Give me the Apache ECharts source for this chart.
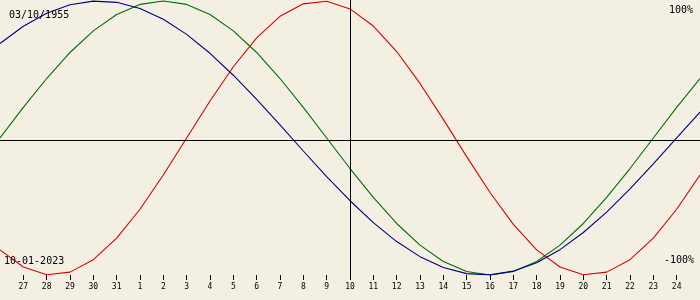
<!DOCTYPE html>
<html>
<head>
<meta charset="utf-8">
<script src="https://cdn.jsdelivr.net/npm/echarts@6/dist/echarts.min.js"></script>
<style>
html,body{margin:0;padding:0;background:#f3efe3;}
#c{width:700px;height:300px;}
</style>
</head>
<body>
<div id="c"></div>
<script>
// Days shown (Dec 26 .. Jan 25); first and last are edge points without labels
const days = ['26','27','28','29','30','31','1','2','3','4','5','6','7','8','9','10','11','12','13','14','15','16','17','18','19','20','21','22','23','24','25'];
// Physical (red), percent
const physical = [-81.7,-94.2,-99.8,-97.9,-88.8,-73.1,-52.0,-27.0,0,27.0,52.0,73.1,88.8,97.9,99.8,94.2,81.7,63.1,39.8,13.6,-13.6,-39.8,-63.1,-81.7,-94.2,-99.8,-97.9,-88.8,-73.1,-52.0,-27.0];
// Emotional (green), percent
const emotional = [0,22.3,43.4,62.4,78.2,90.1,97.5,100,97.5,90.1,78.2,62.4,43.4,22.3,0,-22.3,-43.4,-62.4,-78.2,-90.1,-97.5,-100,-97.5,-90.1,-78.2,-62.4,-43.4,-22.3,0,22.3,43.4];
// Intellectual (blue), percent
const intellectual = [69.0,81.5,91.0,97.2,99.9,99.0,94.5,86.6,75.6,61.8,45.8,28.2,9.5,-9.5,-28.2,-45.8,-61.8,-75.6,-86.6,-94.5,-99.0,-99.9,-97.2,-91.0,-81.5,-69.0,-54.1,-37.2,-18.9,0,18.9];
const birthText = '03/10/1955';
const todayText = '10-01-2023';
const topText = '100%';
const bottomText = '-100%';
const todayIndex = 15;

const chart = echarts.init(document.getElementById('c'), null, {renderer:'canvas'});
const mono = 'DejaVu Sans Mono';
const lastIdx = days.length - 1;
const edge = (i) => i !== 0 && i !== lastIdx;

chart.setOption({
  animation:false,
  backgroundColor:'#f3efe3',
  grid:{left:0,right:0,top:0,bottom:25,containLabel:false},
  xAxis:{
    type:'category',
    data:days,
    boundaryGap:false,
    axisLine:{show:false,onZero:false},
    axisTick:{show:true,length:5,lineStyle:{color:'#000',width:1},interval:(i)=>edge(i),alignWithLabel:true},
    axisLabel:{interval:(i)=>edge(i),color:'#000',fontFamily:mono,fontSize:8,margin:8},
    splitLine:{show:false}
  },
  yAxis:{type:'value',min:-100,max:100.7,show:false,splitLine:{show:false}},
  series:[
    {type:'line',data:physical,showSymbol:false,lineStyle:{color:'#e00000',width:1.1},itemStyle:{color:'#e00000'},z:3,
     markLine:{silent:true,symbol:'none',label:{show:false},
       data:[{yAxis:-1.84,lineStyle:{color:'#000',width:1,type:'solid'}},
             {xAxis:todayIndex + 0.0214,lineStyle:{color:'#000',width:1,type:'solid'}}]}},
    {type:'line',data:emotional,showSymbol:false,lineStyle:{color:'#007000',width:1.1},itemStyle:{color:'#007000'},z:3},
    {type:'line',data:intellectual,showSymbol:false,lineStyle:{color:'#000080',width:1.1},itemStyle:{color:'#000080'},z:3}
  ],
  graphic:[
    {type:'text',left:9,top:10,z:10,style:{text:birthText,fill:'#000',font:'10px '+mono}},
    {type:'text',left:4,top:256,z:10,style:{text:todayText,fill:'#000',font:'10px '+mono}},
    {type:'text',right:7,top:5,z:10,style:{text:topText,fill:'#000',font:'10px '+mono}},
    {type:'text',right:6,top:255,z:10,style:{text:bottomText,fill:'#000',font:'10px '+mono}}
  ]
});
</script>
</body>
</html>
